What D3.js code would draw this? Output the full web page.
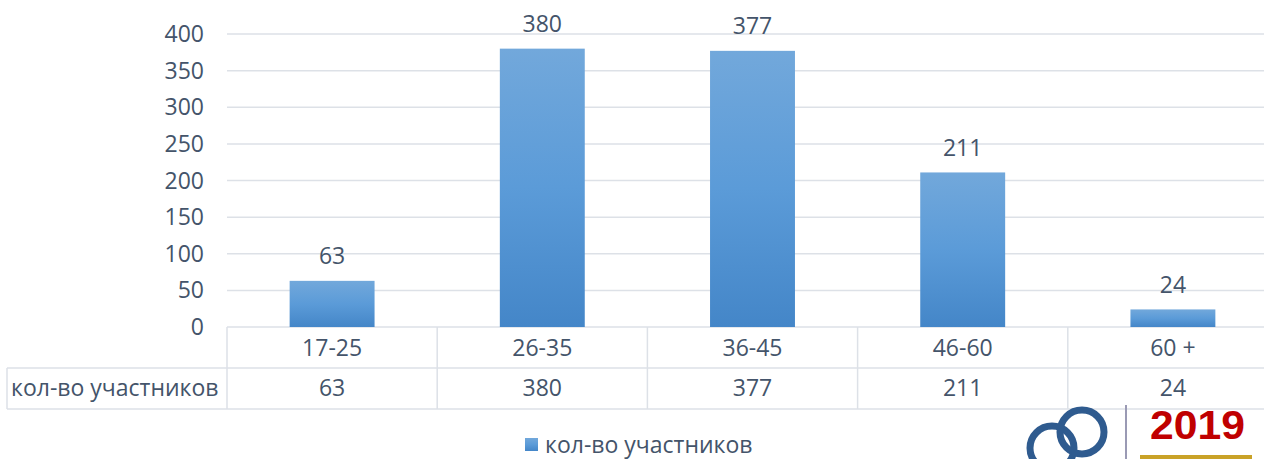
<!DOCTYPE html>
<html>
<head>
<meta charset="utf-8">
<script src="https://d3js.org/d3.v7.min.js"></script>
<style>
  body { margin: 0; background: #fff; overflow: hidden; }
  text { font-family: "Open Sans", Calibri, sans-serif; fill: #44546A; }
</style>
</head>
<body>
<div id="chart"></div>
<script>
// data
const categories = ["17-25", "26-35", "36-45", "46-60", "60 +"];
const values = [63, 380, 377, 211, 24];
const seriesName = "кол-во участников";
const yTicks = [0, 50, 100, 150, 200, 250, 300, 350, 400];

const W = 1264, H = 459;
const margin = {left: 227, top: 34};
const plotRight = 1278; // plot area runs a bit past the window edge
const plotBottom = 327;
const rowH = 41;
const fs = 23;

const svg = d3.select("#chart").append("svg")
    .attr("width", W).attr("height", H);

const defs = svg.append("defs");
const grad = defs.append("linearGradient")
    .attr("id", "barGrad").attr("x1", 0).attr("y1", 0).attr("x2", 0).attr("y2", 1);
grad.append("stop").attr("offset", "0%").attr("stop-color", "#72A8DB");
grad.append("stop").attr("offset", "50%").attr("stop-color", "#5B9BD8");
grad.append("stop").attr("offset", "100%").attr("stop-color", "#4486C8");

const x = d3.scaleBand().domain(categories)
    .range([margin.left, plotRight]).paddingInner(0).paddingOuter(0);
const y = d3.scaleLinear().domain([0, 400]).range([plotBottom, margin.top]);

// gridlines
svg.append("g").selectAll("line").data(yTicks).enter().append("line")
    .attr("x1", margin.left).attr("x2", plotRight)
    .attr("y1", d => y(d)).attr("y2", d => y(d))
    .attr("stroke", "#DDE1E7").attr("stroke-width", 1.5);

// y labels
svg.append("g").selectAll("text").data(yTicks).enter().append("text")
    .attr("x", 204).attr("y", d => y(d)).attr("dy", "0.35em")
    .attr("text-anchor", "end").attr("font-size", fs)
    .text(d => d);

// bars
const bw = x.bandwidth() * 0.404;
svg.append("g").selectAll("rect").data(values).enter().append("rect")
    .attr("x", (d, i) => x(categories[i]) + (x.bandwidth() - bw) / 2)
    .attr("y", d => y(d)).attr("width", bw)
    .attr("height", d => y(0) - y(d))
    .attr("fill", "url(#barGrad)");

// value labels
svg.append("g").selectAll("text").data(values).enter().append("text")
    .attr("x", (d, i) => x(categories[i]) + x.bandwidth() / 2)
    .attr("y", d => y(d) - 19)
    .attr("dy", "0.1em")
    .attr("text-anchor", "middle").attr("font-size", fs)
    .text(d => d);

// data table
const tbl = svg.append("g");
const lc = "#DDE1E7";
[1, 2].forEach(r => {
  tbl.append("line").attr("x1", 7).attr("x2", plotRight)
      .attr("y1", plotBottom + r * rowH).attr("y2", plotBottom + r * rowH)
      .attr("stroke", lc).attr("stroke-width", 1.5);
});
tbl.append("line").attr("x1", 7).attr("x2", 7).attr("y1", plotBottom + rowH).attr("y2", plotBottom + 2 * rowH)
    .attr("stroke", lc).attr("stroke-width", 1.5);
tbl.selectAll("line.v").data(categories).enter().append("line")
    .attr("x1", d => x(d)).attr("x2", d => x(d))
    .attr("y1", plotBottom).attr("y2", plotBottom + 2 * rowH)
    .attr("stroke", lc).attr("stroke-width", 1.5);
tbl.selectAll("text.cat").data(categories).enter().append("text")
    .attr("x", d => x(d) + x.bandwidth() / 2).attr("y", plotBottom + rowH / 2).attr("dy", "0.35em")
    .attr("text-anchor", "middle").attr("font-size", fs).text(d => d);
tbl.selectAll("text.val").data(values).enter().append("text")
    .attr("x", (d, i) => x(categories[i]) + x.bandwidth() / 2).attr("y", plotBottom + rowH * 1.5 - 1).attr("dy", "0.35em")
    .attr("text-anchor", "middle").attr("font-size", fs).text(d => d);
tbl.append("text").attr("x", 11).attr("y", plotBottom + rowH * 1.5 - 1).attr("dy", "0.35em")
    .attr("font-size", fs).text(seriesName);

// legend
const lg = svg.append("g").attr("transform", "translate(525,438)");
lg.append("rect").attr("width", 13).attr("height", 13).attr("fill", "url(#barGrad)");
lg.append("text").attr("x", 20).attr("y", 7).attr("dy", "0.35em").attr("font-size", fs).text(seriesName);

// logo fragment
const logo = svg.append("g");
logo.append("circle").attr("cx", 1052).attr("cy", 448).attr("r", 22)
    .attr("fill", "none").attr("stroke", "#2F5B8F").attr("stroke-width", 7);
logo.append("circle").attr("cx", 1082).attr("cy", 432).attr("r", 22)
    .attr("fill", "none").attr("stroke", "#2F5B8F").attr("stroke-width", 7);
logo.append("line").attr("x1", 1126).attr("x2", 1126).attr("y1", 405).attr("y2", 459)
    .attr("stroke", "#9A9AB4").attr("stroke-width", 2);
logo.append("text").attr("x", 1150).attr("y", 439).attr("font-size", 40)
    .attr("font-weight", "bold").style("fill", "#C00000")
    .style("font-family", "'Liberation Sans', sans-serif")
    .attr("textLength", 95).attr("lengthAdjust", "spacingAndGlyphs")
    .text("2019");
logo.append("rect").attr("x", 1140).attr("y", 455).attr("width", 112).attr("height", 4).attr("fill", "#C9A227");
</script>
</body>
</html>
